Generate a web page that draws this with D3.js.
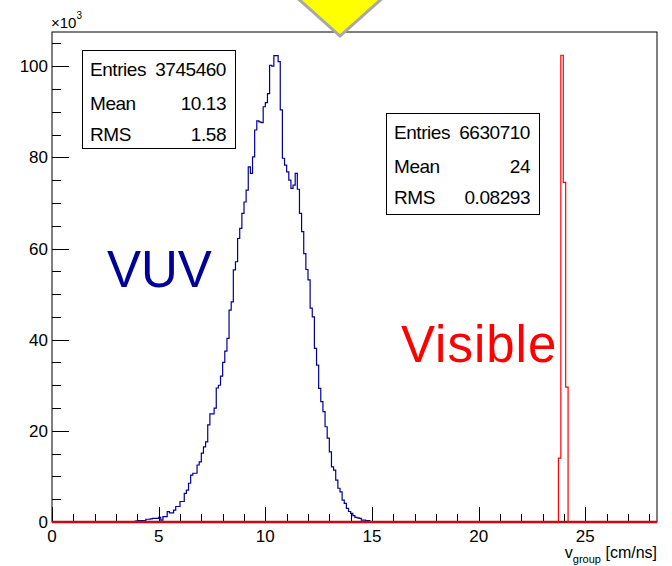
<!DOCTYPE html>
<meta charset="utf-8">
<style>
body { margin: 0; background: #fff; }
text { font-family: 'Liberation Sans', Arial, sans-serif; }
.tick-label { font-size: 17px; }
.stats { font-size: 19px; letter-spacing: -0.45px; }
</style>
<body>
<script src="https://d3js.org/d3.v7.min.js"></script>
<script>
    // histogram contents, in units of 10^3 entries
    let vuvStart = 3.5,
        vuvBinWidth = 0.1,
        vuvCounts = [
            0.1, 0.1, 0.1, 0.1, 0.2, 0.3, 0.3, 0.3, 0.3, 0.6,
            0.6, 0.7, 0.8, 0.8, 0.8, 1.0, 0.4, 1.2, 1.2, 2.3,
            2.0, 2.0, 2.6, 3.4, 3.4, 4.5, 4.5, 6.3, 7.0, 8.5,
            10.3, 10.7, 10.7, 12.5, 13.2, 15.1, 16.5, 17.6, 21.3, 23.7,
            23.7, 25.0, 29.4, 30.0, 32.0, 35.0, 37.5, 40.3, 46.5, 48.3,
            55.3, 57.1, 62.2, 64.4, 67.7, 70.2, 72.8, 77.9, 76.5, 80.1,
            86.0, 88.0, 87.8, 87.6, 91.1, 92.0, 94.0, 100.2, 100.0, 102.3,
            102.3, 101.0, 90.4, 79.8, 78.3, 76.8, 75.0, 73.2, 73.9, 76.5,
            73.0, 67.7, 63.7, 58.9, 55.4, 53.1, 46.9, 45.0, 38.1, 34.4,
            29.3, 26.4, 24.2, 20.9, 18.4, 15.4, 12.1, 11.4, 9.2, 7.4,
            6.6, 4.8, 4.1, 3.0, 2.3, 1.9, 1.4, 1.0, 0.9, 0.8,
            0.4, 0.4, 0.3, 0.3, 0.1, 0.1
        ];

    let visStart = 23.74,
        visBinWidth = 0.113,
        visCounts = [14.0, 102.4, 74.5, 29.6];

    let xDomain = [0, 28.36],
        yDomain = [0, 107.5];

    let vuvStats = [["Entries", "3745460"], ["Mean", "10.13"], ["RMS", "1.58"]],
        visStats = [["Entries", "6630710"], ["Mean", "24"], ["RMS", "0.08293"]];

    let width = 672,
        height = 566,
        frame = {left: 52, right: 657, top: 32, bottom: 522},
        vuvColor = "#000099",
        visColor = "#ff0000";

    let svg = d3.select("body").append("svg")
        .attr("width", width)
        .attr("height", height);

    let x = d3.scaleLinear().domain(xDomain).range([frame.left, frame.right]),
        y = d3.scaleLinear().domain(yDomain).range([frame.bottom, frame.top]);

    // frame
    svg.append("rect")
        .attr("x", frame.left)
        .attr("y", frame.top)
        .attr("width", frame.right - frame.left)
        .attr("height", frame.bottom - frame.top)
        .attr("fill", "none")
        .attr("stroke", "#000")
        .attr("stroke-width", 1);

    // y ticks (drawn inside the frame)
    let yMinor = d3.range(0, yDomain[1], 5);
    svg.append("g")
        .selectAll("line")
        .data(yMinor)
        .join("line")
            .attr("x1", frame.left)
            .attr("x2", d => frame.left + (d % 20 === 0 ? 17 : 9))
            .attr("y1", d => Math.round(y(d)) + 0.5)
            .attr("y2", d => Math.round(y(d)) + 0.5)
            .attr("stroke", "#000");

    svg.append("g")
        .selectAll("text")
        .data(yMinor.filter(d => d % 20 === 0))
        .join("text")
            .attr("class", "tick-label")
            .attr("x", frame.left - 4)
            .attr("y", d => y(d))
            .attr("dy", "0.36em")
            .attr("text-anchor", "end")
            .text(d => d);

    // x ticks (pointing up)
    let xMinor = d3.range(0, Math.floor(xDomain[1]) + 1, 1);
    svg.append("g")
        .selectAll("line")
        .data(xMinor)
        .join("line")
            .attr("x1", d => Math.round(x(d)) + 0.5)
            .attr("x2", d => Math.round(x(d)) + 0.5)
            .attr("y1", frame.bottom)
            .attr("y2", d => frame.bottom - (d % 5 === 0 ? 15 : 8))
            .attr("stroke", "#000");

    svg.append("g")
        .selectAll("text")
        .data(xMinor.filter(d => d % 5 === 0))
        .join("text")
            .attr("class", "tick-label")
            .attr("x", d => x(d))
            .attr("y", 541.5)
            .attr("text-anchor", "middle")
            .text(d => d);

    // x10^3 multiplier
    let mult = svg.append("text")
        .attr("x", 51)
        .attr("y", 28)
        .attr("font-size", 15);
    mult.append("tspan").text("\u00d710");
    mult.append("tspan").attr("dy", -9).attr("font-size", 10).text("3");

    // axis title
    let title = svg.append("text")
        .attr("x", frame.right)
        .attr("y", 558)
        .attr("text-anchor", "end")
        .attr("font-size", 16);
    title.append("tspan").text("v");
    title.append("tspan").attr("dy", 5).attr("font-size", 11).text("group");
    title.append("tspan").attr("dy", -5).text(" [cm/ns]");

    // histograms as step outlines
    function histPoints(start, w, counts) {
        let pts = [[xDomain[0], 0], [start, 0]];
        counts.forEach((c, i) => pts.push([start + i * w, c]));
        pts.push([start + counts.length * w, 0]);
        pts.push([xDomain[1], 0]);
        return pts;
    }

    let line = d3.line()
        .x(d => x(d[0]))
        .y(d => y(d[1]))
        .curve(d3.curveStepAfter);

    svg.append("path")
        .attr("d", line(histPoints(vuvStart, vuvBinWidth, vuvCounts)))
        .attr("fill", "none")
        .attr("stroke", vuvColor)
        .attr("stroke-width", 1.2);

    // the two zero levels overlap along the axis and show up dark red
    svg.append("line")
        .attr("x1", x(xDomain[0]))
        .attr("x2", x(xDomain[1]))
        .attr("y1", y(0))
        .attr("y2", y(0))
        .attr("stroke", "#a3131c")
        .attr("stroke-width", 2.5);

    svg.append("path")
        .attr("d", line(histPoints(visStart, visBinWidth, visCounts)))
        .attr("fill", "none")
        .attr("stroke", visColor)
        .attr("stroke-width", 1.2);

    // labels
    svg.append("text")
        .attr("x", 107)
        .attr("y", 287)
        .attr("font-size", 51)
        .attr("fill", vuvColor)
        .text("VUV");

    svg.append("text")
        .attr("x", 401)
        .attr("y", 362)
        .attr("font-size", 51)
        .attr("letter-spacing", 1)
        .attr("fill", visColor)
        .text("Visible");

    // stat boxes
    function statBox(rows, bx, by, bw, bh) {
        let g = svg.append("g").attr("transform", `translate(${bx},${by})`);
        g.append("rect")
            .attr("x", 0.5).attr("y", 0.5)
            .attr("width", bw).attr("height", bh)
            .attr("fill", "#fff")
            .attr("stroke", "#000");
        let offs = [26, 60, 91];
        rows.forEach((r, i) => {
            g.append("text").attr("class", "stats")
                .attr("x", 8).attr("y", offs[i]).text(r[0]);
            g.append("text").attr("class", "stats")
                .attr("x", bw - 9).attr("y", offs[i])
                .attr("text-anchor", "end").text(r[1]);
        });
    }
    statBox(vuvStats, 82, 50, 153, 98);
    statBox(visStats, 386, 113, 153, 101);

    // yellow marker at the top
    svg.append("polygon")
        .attr("points", "294,-5 386,-5 340,36")
        .attr("fill", "#ffff00")
        .attr("stroke", "#a8a8a8")
        .attr("stroke-width", 3);
</script>
</body>
